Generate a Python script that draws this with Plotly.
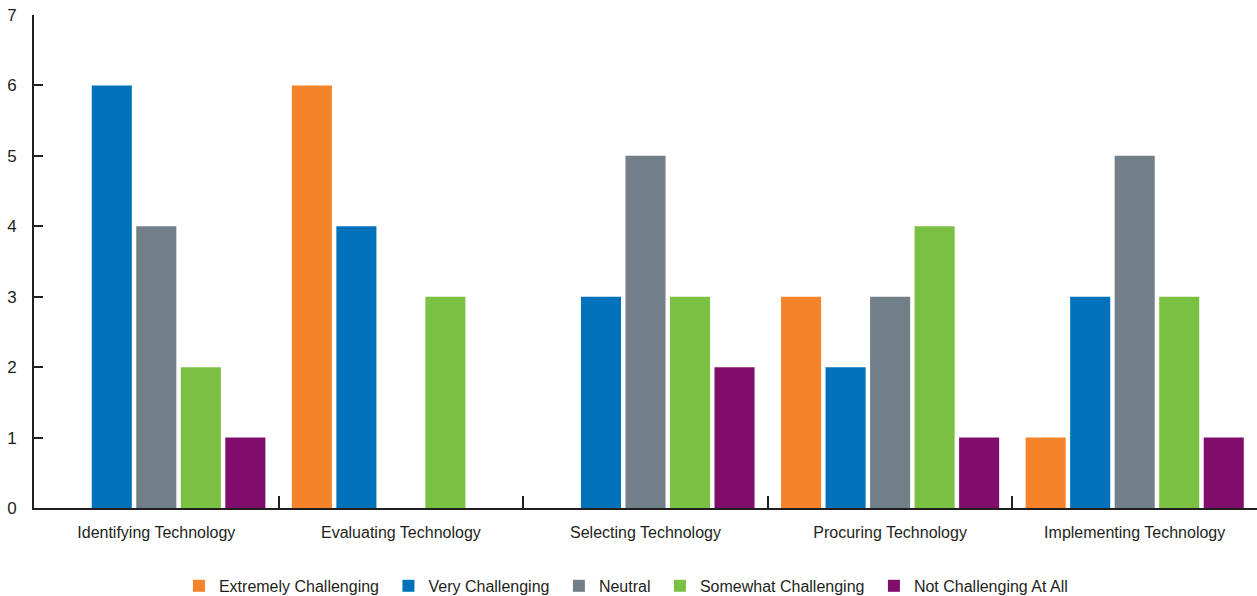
import plotly.graph_objects as go

categories = ["Identifying Technology", "Evaluating Technology", "Selecting Technology",
              "Procuring Technology", "Implementing Technology"]
series_names = ["Extremely Challenging", "Very Challenging", "Neutral",
                "Somewhat Challenging", "Not Challenging At All"]
extremely = [0, 6, 0, 3, 1]
very = [6, 4, 3, 2, 3]
neutral = [4, 0, 5, 3, 5]
somewhat = [2, 3, 3, 4, 3]
not_at_all = [1, 0, 2, 1, 1]
colors = ["#F5832A", "#0072BC", "#717F88", "#7AC143", "#800D6C"]

FONT = "Liberation Sans, Arial, sans-serif"

fig = go.Figure()
series = [extremely, very, neutral, somewhat, not_at_all]
for i, (name, vals, col) in enumerate(zip(series_names, series, colors)):
    label = name + ("\u00a0" if i < len(series_names) - 1 else "")
    fig.add_trace(go.Bar(x=categories, y=vals, name=label, marker=dict(color=col, line=dict(width=0))))

fig.update_layout(
    width=1257, height=596,
    margin=dict(l=34, r=0, t=15, b=88, autoexpand=False),
    plot_bgcolor="white", paper_bgcolor="white",
    barmode="group", bargap=0.09, bargroupgap=0.1,
    font=dict(family=FONT, size=16, color="#231F20"),
    showlegend=True,
    legend=dict(orientation="h", x=0.484, xanchor="center", y=-0.158, yanchor="middle",
                font=dict(size=16), itemwidth=30, traceorder="normal"),
    xaxis=dict(showline=True, linecolor="#231F20", linewidth=2, ticks="inside",
               tickson="boundaries", ticklen=12, tickcolor="#231F20", tickwidth=2,
               showgrid=False, ticklabelstandoff=9, tickfont=dict(size=16)),
    yaxis=dict(range=[0, 7], dtick=1, showline=True, linecolor="#231F20", linewidth=2,
               ticks="inside", ticklen=9, tickcolor="#231F20", tickwidth=2,
               showgrid=False, zeroline=False, ticklabelstandoff=12, tickfont=dict(size=17)),
)

fig.write_html("out.html")
